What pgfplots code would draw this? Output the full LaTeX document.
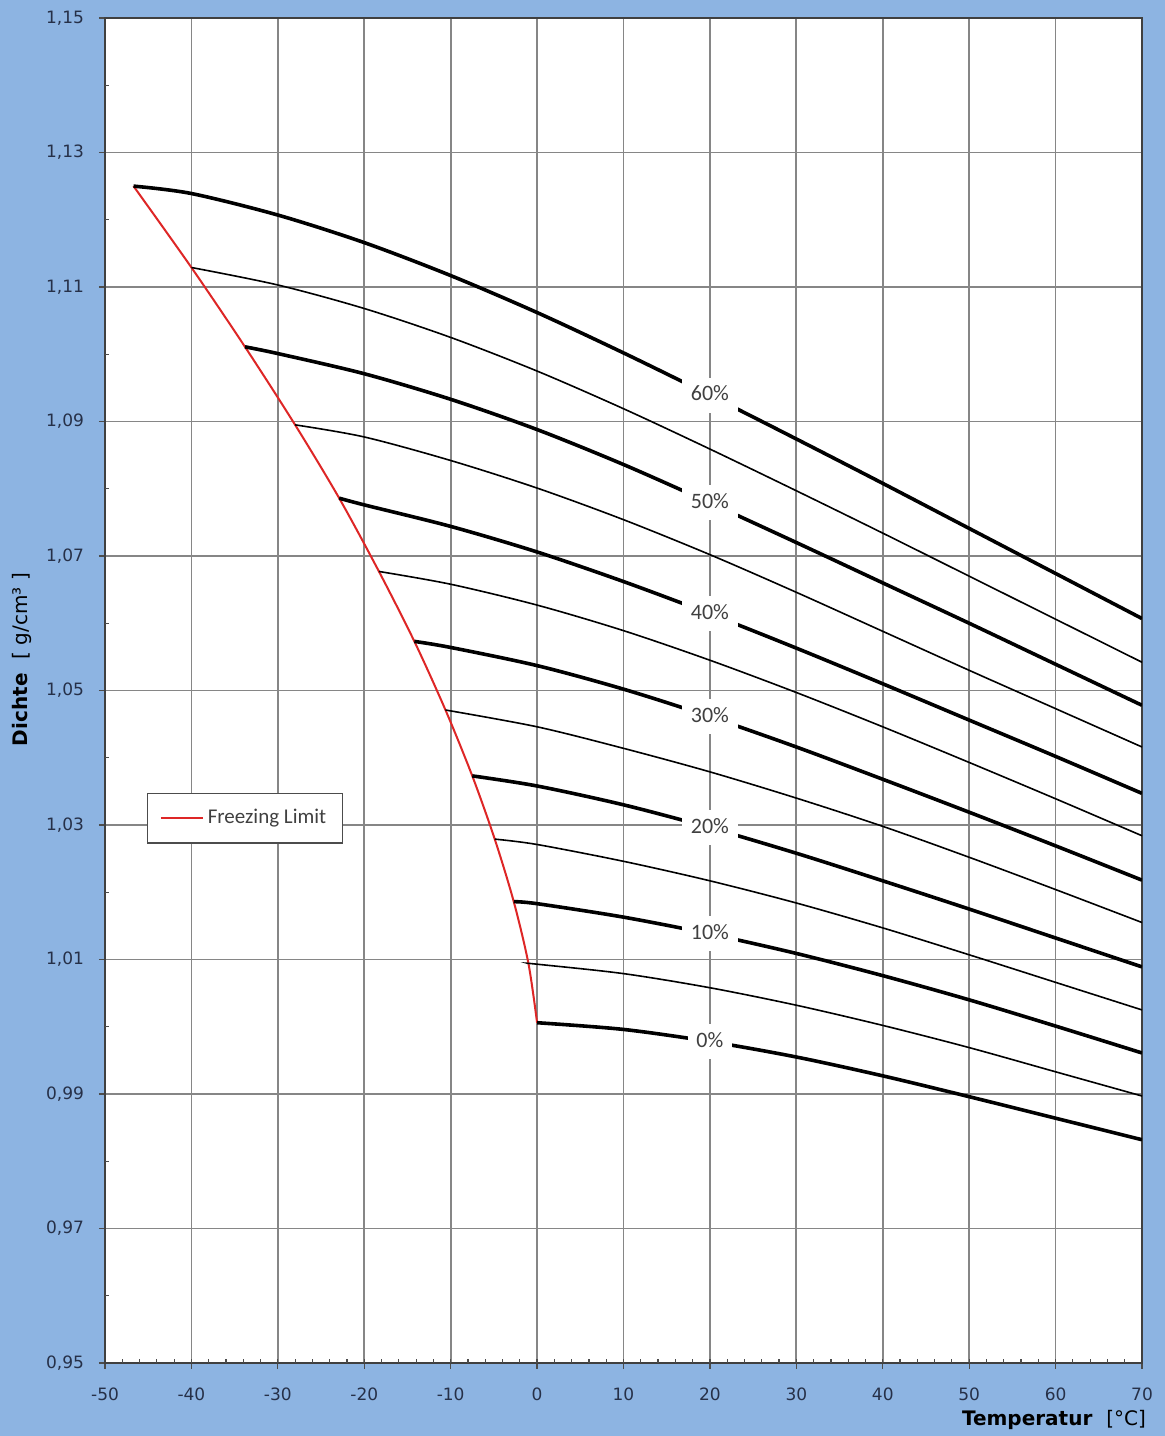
\documentclass[border=0pt]{standalone}
\usepackage{fontspec}
\setmainfont{DejaVu Sans}
\newfontfamily\calibri{Carlito}
\usepackage{pgfplots}
\pgfplotsset{compat=1.18}

\definecolor{bgblue}{RGB}{141,180,226}
\definecolor{gridgray}{RGB}{134,134,134}
\definecolor{ticknavy}{RGB}{38,48,72}
\definecolor{frostred}{RGB}{222,38,38}

\begin{document}
\begin{tikzpicture}
  % background of the whole chart
  \fill[bgblue] (-52.5pt,-36.5pt) rectangle (530pt,681.5pt);
  \useasboundingbox (-52.5pt,-36.5pt) rectangle (530pt,681.5pt);

  \begin{axis}[
      at={(0pt,0pt)}, anchor=south west,
      scale only axis,
      width=518.5pt, height=672.5pt,
      xmin=-50, xmax=70,
      ymin=0.95, ymax=1.15,
      axis background/.style={fill=white},
      axis line style={black!75, line width=0.9pt},
      xtick={-50,-40,...,70},
      xticklabels={-50,-40,-30,-20,-10,0,10,20,30,40,50,60,70},
      ytick={0.95,0.97,0.99,1.01,1.03,1.05,1.07,1.09,1.11,1.13,1.15},
      yticklabels={{0,95},{0,97},{0,99},{1,01},{1,03},{1,05},{1,07},{1,09},{1,11},{1,13},{1,15}},
      xtick pos=bottom, ytick pos=left,
      tick align=outside,
      major tick length=3pt,
      tick style={black!70, line width=0.6pt},
      extra x ticks={-48,-46,...,68},
      extra x tick labels={},
      extra x tick style={grid=none, tick align=inside, major tick length=2pt},
      extra y ticks={0.96,0.98,1.00,1.02,1.04,1.06,1.08,1.10,1.12,1.14},
      extra y tick labels={},
      extra y tick style={grid=none, tick align=inside, major tick length=2pt},
      grid=major,
      major grid style={gridgray, line width=0.9pt},
      xticklabel style={font=\fontsize{8.5}{10}\selectfont, text=ticknavy, yshift=-6pt},
      yticklabel style={font=\fontsize{8.5}{10}\selectfont, text=ticknavy, xshift=-4pt},
      every axis y label/.style={at={(rel axis cs:-0.080,0.523)}, rotate=90, anchor=center,
        font=\fontsize{10}{12}\selectfont},
      every axis x label/.style={at={(rel axis cs:1,0)}, anchor=east, xshift=5.5pt, yshift=-28.5pt,
        font=\fontsize{10}{12}\selectfont},
      ylabel={\textbf{Dichte}\hspace{0.7em}[ g/cm³ ]},
      xlabel={\textbf{Temperatur}\hspace{0.7em}[°C]},
      legend style={
        at={(0.135,0.405)}, anchor=center,
        font=\calibri\fontsize{10.5}{12}\selectfont, text=black!75,
        draw=black!70, fill=white, line width=0.6pt,
        inner xsep=6pt, inner ysep=6pt
      },
      legend cell align=left,
      legend image code/.code={\draw[#1] (0pt,0pt) -- (21pt,0pt);},
      thickc/.style={black, line width=1.8pt, smooth, forget plot},
      thinc/.style={black, line width=0.8pt, smooth, forget plot},
    ]

    % --- freezing limit ---
    \addplot[frostred, line width=1pt, smooth] coordinates {
      (-46.7,1.1250) (-40.0,1.1129) (-33.8,1.1011) (-28.0,1.0895) (-22.9,1.0786)
      (-18.3,1.0677) (-14.2,1.0573) (-10.6,1.0471) (-7.5,1.0373) (-4.9,1.0279)
      (-2.7,1.0186) (-1.0,1.0094) (0,1.0006)
    };
    \addlegendentry{Freezing Limit}

    % --- concentration curves 0% ... 60% ---
    \addplot[thickc] coordinates { % 0%
      (0,1.0006) (10,0.9996) (20,0.9978) (30,0.9955) (40,0.9927) (50,0.9896) (60,0.9864) (70,0.9832) };
    \addplot[thinc] coordinates { % 5%
      (-1.0,1.0094) (0,1.0093) (10,1.0079) (20,1.0058) (30,1.0032) (40,1.0002) (50,0.9969) (60,0.9933) (70,0.9897) };
    \addplot[thickc] coordinates { % 10%
      (-2.7,1.0186) (0,1.0183) (10,1.0163) (20,1.0138) (30,1.0109) (40,1.0076) (50,1.0040) (60,1.0001) (70,0.9961) };
    \addplot[thinc] coordinates { % 15%
      (-4.9,1.0279) (0,1.0271) (10,1.0246) (20,1.0217) (30,1.0184) (40,1.0147) (50,1.0107) (60,1.0066) (70,1.0025) };
    \addplot[thickc] coordinates { % 20%
      (-7.5,1.0373) (0,1.0358) (10,1.0330) (20,1.0296) (30,1.0258) (40,1.0217) (50,1.0175) (60,1.0132) (70,1.0089) };
    \addplot[thinc] coordinates { % 25%
      (-10.6,1.0471) (0,1.0446) (10,1.0414) (20,1.0379) (30,1.0340) (40,1.0298) (50,1.0252) (60,1.0204) (70,1.0155) };
    \addplot[thickc] coordinates { % 30%
      (-14.2,1.0573) (-10,1.0564) (0,1.0537) (10,1.0502) (20,1.0461) (30,1.0416) (40,1.0368) (50,1.0319) (60,1.0269) (70,1.0218) };
    \addplot[thinc] coordinates { % 35%
      (-18.3,1.0677) (-10,1.0658) (0,1.0627) (10,1.0589) (20,1.0545) (30,1.0497) (40,1.0446) (50,1.0393) (60,1.0339) (70,1.0284) };
    \addplot[thickc] coordinates { % 40%
      (-22.9,1.0786) (-20,1.0776) (-10,1.0744) (0,1.0706) (10,1.0662) (20,1.0614) (30,1.0563) (40,1.0510) (50,1.0456) (60,1.0402) (70,1.0347) };
    \addplot[thinc] coordinates { % 45%
      (-28.0,1.0895) (-20,1.0877) (-10,1.0842) (0,1.0801) (10,1.0754) (20,1.0702) (30,1.0646) (40,1.0588) (50,1.0530) (60,1.0473) (70,1.0416) };
    \addplot[thickc] coordinates { % 50%
      (-33.8,1.1011) (-30,1.1001) (-20,1.0971) (-10,1.0933) (0,1.0888) (10,1.0836) (20,1.0779) (30,1.0720) (40,1.0660) (50,1.0600) (60,1.0539) (70,1.0478) };
    \addplot[thinc] coordinates { % 55%
      (-40.0,1.1129) (-30,1.1103) (-20,1.1068) (-10,1.1025) (0,1.0975) (10,1.0919) (20,1.0859) (30,1.0797) (40,1.0734) (50,1.0670) (60,1.0606) (70,1.0542) };
    \addplot[thickc] coordinates { % 60%
      (-46.7,1.1250) (-40,1.1239) (-30,1.1207) (-20,1.1166) (-10,1.1117) (0,1.1062) (10,1.1002) (20,1.0939) (30,1.0874) (40,1.0808) (50,1.0741) (60,1.0674) (70,1.0607) };

    % --- curve labels at 20 degC ---
    \addplot[draw=none, mark=none, forget plot,
      point meta=explicit symbolic,
      nodes near coords={\pgfplotspointmeta\%},
      nodes near coords align=center,
      every node near coord/.append style={anchor=center, fill=white,
        font=\calibri\fontsize{11}{12}\selectfont, text=black!75,
        inner xsep=4.3pt, inner ysep=3.5pt, text height=8pt, text depth=2.5pt},
    ] table[meta=lab] {
      x  y      lab
      20 1.0939 60
      20 1.0779 50
      20 1.0614 40
      20 1.0461 30
      20 1.0296 20
      20 1.0138 10
      20 0.9978 0
    };
  \end{axis}
\end{tikzpicture}
\end{document}
